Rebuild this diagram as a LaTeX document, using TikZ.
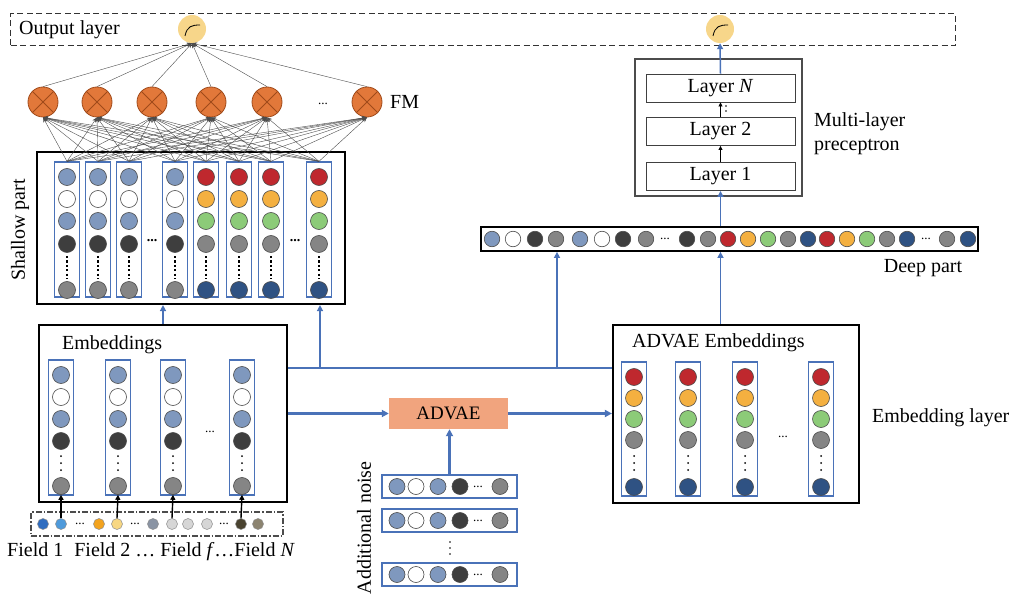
\documentclass[tikz,border=0pt]{standalone}
\usepackage{fontspec}
\setmainfont{Liberation Serif}
\usetikzlibrary{arrows.meta,calc}
\definecolor{gb}{HTML}{7F98BE}
\definecolor{dk}{HTML}{3E3E3E}
\definecolor{gr}{HTML}{858585}
\definecolor{rd}{HTML}{BF282E}
\definecolor{og}{HTML}{F4B040}
\definecolor{gn}{HTML}{8CCB78}
\definecolor{nv}{HTML}{2F5283}
\definecolor{lblue}{HTML}{4A72B8}
\definecolor{fmfill}{HTML}{E2783A}
\definecolor{fmedge}{HTML}{A04A1A}
\definecolor{outfill}{HTML}{F7D68A}
\definecolor{advfill}{HTML}{F1A47E}
\definecolor{fba}{HTML}{2F6DC0}
\definecolor{fbb}{HTML}{4E9ADB}
\definecolor{foa}{HTML}{F3A31E}
\definecolor{fob}{HTML}{F7D783}
\definecolor{fga}{HTML}{8A94A4}
\definecolor{fla}{HTML}{D6D6D6}
\definecolor{fka}{HTML}{4A4330}
\definecolor{fkb}{HTML}{8C8470}
\begin{document}
\begin{tikzpicture}[x=1pt,y=-1pt,
  txt/.style={font=\fontsize{20}{24}\selectfont, inner sep=0pt},
  smalltxt/.style={font=\fontsize{13}{13}\selectfont, inner sep=0pt},
  bigbox/.style={draw=black, line width=2.2pt, fill=white, inner sep=0pt},
  colbox/.style={draw=lblue, line width=1.3pt, inner sep=0pt, minimum width=25pt},
  dot/.style={circle, draw=black!70, line width=0.6pt, minimum size=17pt, inner sep=0pt},
  fmc/.style={circle, draw=fmedge, line width=0.8pt, fill=fmfill, minimum size=30pt, inner sep=0pt},
  outc/.style={circle, fill=outfill, minimum size=28pt, inner sep=0pt},
  net/.style={draw=black!70, line width=0.4pt, -{Stealth[length=5pt,width=4pt]}},
  bline/.style={draw=lblue, line width=1.5pt},
  barrow/.style={draw=lblue, line width=1.5pt, -{Triangle[length=6pt,width=6pt]}},
  bthick/.style={draw=lblue, line width=2.2pt, -{Triangle[length=7pt,width=7pt]}},
  karrow/.style={draw=black, line width=0.8pt, -{Triangle[length=4pt,width=4pt]}},
  farrow/.style={draw=black, line width=1.4pt, -{Triangle[length=5pt,width=5pt]}},
  shdots/.style={draw=black, line width=2.5pt, dash pattern=on 2.2pt off 2.2pt},
  layerbox/.style={draw=black!75, line width=0.9pt, minimum width=149pt, minimum height=28pt, inner sep=0pt, font=\fontsize{20}{24}\selectfont}
]
\useasboundingbox (0,0) rectangle (1010,599);

% ---------- output layer ----------
\node[draw=black!80, line width=1.3pt, dash pattern=on 6pt off 3.5pt, minimum width=945pt, minimum height=32pt, anchor=north west, inner sep=0pt] (outlayer) at (10,13) {};
\node[txt, anchor=west] (outtxt) at (19,30) {Output layer};
\node[outc] (o1) at (192,29) {};
\node[outc] (o2) at (720,29) {};
\draw[line width=0.8pt] ($(o1)+(-7,7)$) .. controls ($(o1)+(-5,-3)$) and ($(o1)+(0,-4)$) .. ($(o1)+(8,-4)$);
\draw[line width=0.8pt] ($(o2)+(-7,7)$) .. controls ($(o2)+(-5,-3)$) and ($(o2)+(0,-4)$) .. ($(o2)+(8,-4)$);

% ---------- shallow part ----------
\node[bigbox, minimum width=308pt, minimum height=152pt] (shallow) at (191,228) {};
\node[txt, rotate=90] (shtxt) at (20,230) {Shallow part};
\foreach \ii/\xx in {1/67,2/98,3/129,4/175,5/206,6/239,7/271,8/319} {
  \node[colbox, minimum height=135pt] (sc\ii) at (\xx,229.5) {};
}
\foreach \ii/\xx in {1/67,2/98,3/129,4/175} {
  \foreach \cc/\yy [count=\kk] in {gb/177,white/199,gb/221,dk/244,gr/290} {
    \node[dot, fill=\cc] (s\ii-\kk) at (\xx,\yy) {};
  }
  \draw[shdots] (\xx,256) -- (\xx,279);
}
\foreach \ii/\xx in {5/206,6/239,7/271,8/319} {
  \foreach \cc/\yy [count=\kk] in {rd/177,og/199,gn/221,gr/244,nv/290} {
    \node[dot, fill=\cc] (s\ii-\kk) at (\xx,\yy) {};
  }
  \draw[shdots] (\xx,256) -- (\xx,279);
}
\node[font=\bfseries\fontsize{14}{14}\selectfont, inner sep=0pt] (shd1) at (152,241) {...};
\node[font=\bfseries\fontsize{14}{14}\selectfont, inner sep=0pt] (shd2) at (295,241) {...};

% ---------- FM ----------
\foreach \ii/\xx in {1/43,2/97,3/152,4/211,5/267,6/367} {
  \node[fmc] (fm\ii) at (\xx,102) {};
  \draw[fmedge, line width=0.8pt] (fm\ii.45) -- (fm\ii.225);
  \draw[fmedge, line width=0.8pt] (fm\ii.135) -- (fm\ii.315);
}
\node[smalltxt] (fmdots) at (323,104) {...};
\node[txt, anchor=west] (fmtxt) at (390,102) {FM};
\foreach \ii in {1,...,8} {
  \foreach \jj in {1,...,6} {
    \draw[net] (sc\ii.north) -- (fm\jj.south);
  }
}
\foreach \jj in {1,...,6} {
  \draw[net] (fm\jj.north) -- (o1.south);
}

% ---------- Embeddings ----------
\node[bigbox, minimum width=248pt, minimum height=177pt] (emb) at (163,413.5) {};
\node[txt, anchor=west] (embtxt) at (62,345) {Embeddings};
\foreach \ii/\xx in {1/61,2/118,3/173,4/242} {
  \node[colbox, minimum height=135pt] (ec\ii) at (\xx,427.5) {};
  \foreach \cc/\yy [count=\kk] in {gb/375,white/397,gb/419,dk/441,gr/486} {
    \node[dot, fill=\cc] (e\ii-\kk) at (\xx,\yy) {};
  }
  \foreach \dd in {456,463,470} { \fill (\xx,\dd) circle (1pt); }
}
\node[smalltxt] (edots) at (210,432) {...};

% ---------- fields ----------
\node[draw=black!70, line width=1.2pt, dash pattern=on 6pt off 2pt on 1.5pt off 2pt, minimum width=252pt, minimum height=24pt, inner sep=0pt] (fields) at (157,524) {};
\foreach \xx/\cc [count=\ii] in {43/fba,61/fbb,99/foa,117/fob,153/fga,172/fla,188/fla,207/fla,241/fka,258/fkb} {
  \node[circle, draw=black!45, line width=0.5pt, fill=\cc, minimum width=11pt, minimum height=11pt, inner sep=0pt] (f\ii) at (\xx,524) {};
}
\node[smalltxt] (fd1) at (80,524) {...};
\node[smalltxt] (fd2) at (135,524) {...};
\node[smalltxt] (fd3) at (224,524) {...};
\draw[farrow] (f2.north) -- (e1-5.south);
\draw[farrow] (f4.north) -- (e2-5.south);
\draw[farrow] (f6.north) -- (e3-5.south);
\draw[farrow] (f9.north) -- (e4-5.south);
\node[txt] (fieldtxt) at (151,552) {Field 1\hspace{0.3em} Field 2 … Field \textit{f}…Field \textit{N}};

% ---------- ADVAE ----------
\node[fill=advfill, minimum width=119pt, minimum height=31pt, inner sep=0pt, font=\fontsize{19}{22}\selectfont] (advae) at (448.5,413.5) {ADVAE};
\foreach \rr/\yy in {1/486.5,2/520.5,3/574.5} {
  \node[colbox, minimum width=135pt, minimum height=23pt] (nz\rr) at (449.5,\yy) {};
  \foreach \xx/\cc [count=\kk] in {397/gb,416/white,438/gb,460/dk,500/gr} {
    \node[dot, minimum size=16pt, fill=\cc] (n\rr-\kk) at (\xx,\yy) {};
  }
  \node[smalltxt] (nd\rr) at (478,\yy) {...};
}
\foreach \dd in {542,548,554} { \fill (450,\dd) circle (0.9pt); }
\node[txt, rotate=90] (noisetxt) at (364,528) {Additional noise};

% ---------- ADVAE Embeddings ----------
\node[bigbox, minimum width=246pt, minimum height=178pt] (advemb) at (736,414) {};
\node[txt, anchor=west] (advembtxt) at (632,343) {ADVAE Embeddings};
\foreach \ii/\xx in {1/634,2/688,3/745,4/821} {
  \node[colbox, minimum height=134pt] (ac\ii) at (\xx,429) {};
  \foreach \cc/\yy [count=\kk] in {rd/377,og/398,gn/419,gr/440,nv/487} {
    \node[dot, fill=\cc] (a\ii-\kk) at (\xx,\yy) {};
  }
  \foreach \dd in {456,463,470} { \fill (\xx,\dd) circle (1pt); }
}
\node[smalltxt] (adots) at (783,437) {...};
\node[txt, anchor=west] (emblayertxt) at (872,418) {Embedding layer};

% ---------- Deep part ----------
\node[draw=black, line width=1.8pt, fill=white, minimum width=497pt, minimum height=24pt, inner sep=0pt] (deep) at (729.5,239) {};
\foreach \xx/\cc [count=\ii] in {492/gb,513/white,535/dk,556/gr,580/gb,602/white,623/dk,646/gr,687/dk,708/gr,728/rd,748/og,768/gn,788/gr,808/nv,827/rd,847/og,867/gn,887/gr,907/nv,947/gr,968/nv} {
  \node[dot, minimum size=15.5pt, fill=\cc] (d\ii) at (\xx,239) {};
}
\node[smalltxt] (dd1) at (665,239) {...};
\node[smalltxt] (dd2) at (926,239) {...};
\node[txt] (deeptxt) at (923,268) {Deep part};

% ---------- MLP ----------
\node[draw=black!70, line width=1.1pt, minimum width=167pt, minimum height=137pt, inner sep=0pt] (mlp) at (718.5,127.5) {};
\node[layerbox] (ln) at (720.5,88) {Layer \textit{N}};
\node[layerbox] (l2) at (720.5,131.5) {Layer 2};
\node[layerbox] (l1) at (720.5,176.5) {Layer 1};
\draw[karrow] (l1.north) -- (l2.south);
\draw[karrow] (l2.north) -- (ln.south);
\fill (726,106) circle (0.8pt);
\fill (726,111) circle (0.8pt);
\node[txt, anchor=west] (mlptxt1) at (814,122) {Multi-layer};
\node[txt, anchor=west] (mlptxt2) at (814,147) {preceptron};

% ---------- blue connectors ----------
\draw[barrow] (deep.north -| l1.south) -- (l1.south);
\draw[barrow] (ln.north) -- (o2.south);
\draw[barrow] (advemb.north -| l1.south) -- (deep.south -| l1.south);
\draw[barrow] (emb.north) -- (emb.north |- shallow.south);
\coordinate (hy) at (0,368);
\coordinate (b1) at (320,368);
\coordinate (b2) at (557,368);
\draw[bline] (emb.east |- hy) -- (advemb.west |- hy);
\draw[barrow] (b1) -- (b1 |- shallow.south);
\draw[barrow] (b2) -- (b2 |- deep.south);
\draw[bthick] (emb.east |- advae.west) -- (advae.west);
\draw[bthick] (advae.east) -- (advae.east -| advemb.west);
\draw[bthick] (nz1.north) -- (nz1.north |- advae.south);
\end{tikzpicture}
\end{document}
